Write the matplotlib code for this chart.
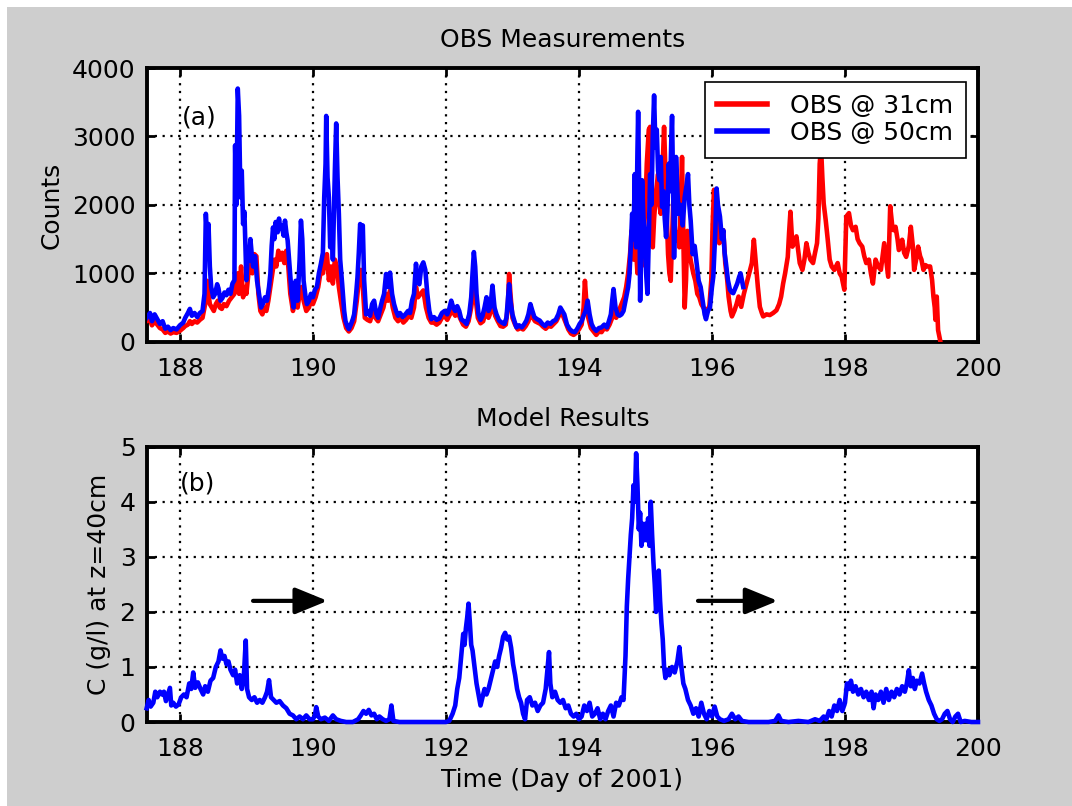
import matplotlib
matplotlib.use("Agg")
import matplotlib.pyplot as plt
from matplotlib.patches import Rectangle

# ---- data: (day of 2001, value) ----
# OBS @ 31cm (counts)
obs31 = [
    (187.50, 300), (187.55, 320), (187.58, 240), (187.62, 300), (187.66, 250), (187.70, 200),
    (187.74, 180), (187.78, 130), (187.82, 150), (187.86, 120), (187.90, 140), (187.95, 130),
    (188.00, 160), (188.05, 200), (188.08, 230), (188.12, 250), (188.15, 300), (188.18, 260),
    (188.22, 300), (188.26, 280), (188.30, 320), (188.34, 350), (188.37, 500), (188.39, 600),
    (188.41, 890), (188.43, 700), (188.45, 550), (188.48, 500), (188.51, 450), (188.54, 550),
    (188.57, 600), (188.60, 500), (188.63, 480), (188.66, 550), (188.70, 520), (188.74, 600),
    (188.78, 650), (188.82, 700), (188.84, 900), (188.87, 1000), (188.89, 700), (188.92, 1100),
    (188.95, 650), (188.98, 800), (189.00, 700), (189.03, 1000), (189.06, 1150), (189.09, 1000),
    (189.12, 1280), (189.15, 1250), (189.18, 700), (189.21, 450), (189.24, 400), (189.27, 500),
    (189.30, 450), (189.33, 600), (189.36, 800), (189.39, 1000), (189.42, 1200), (189.45, 1100),
    (189.48, 1330), (189.51, 1200), (189.54, 1300), (189.57, 1150), (189.60, 1330), (189.63, 1100),
    (189.66, 700), (189.70, 450), (189.73, 600), (189.77, 500), (189.80, 700), (189.83, 800),
    (189.86, 600), (189.90, 450), (189.94, 500), (189.97, 600), (190.00, 550), (190.04, 650),
    (190.08, 800), (190.12, 1050), (190.15, 1000), (190.18, 1200), (190.21, 1280), (190.24, 900),
    (190.27, 1100), (190.30, 850), (190.33, 1200), (190.36, 1100), (190.39, 800), (190.42, 600),
    (190.46, 350), (190.50, 200), (190.54, 150), (190.58, 200), (190.62, 300), (190.66, 600),
    (190.69, 900), (190.72, 1050), (190.75, 800), (190.78, 350), (190.82, 320), (190.86, 300),
    (190.90, 450), (190.94, 350), (190.98, 300), (191.02, 400), (191.06, 500), (191.10, 700),
    (191.13, 600), (191.16, 750), (191.20, 500), (191.24, 350), (191.28, 300), (191.32, 350),
    (191.36, 280), (191.40, 320), (191.44, 380), (191.48, 350), (191.52, 500), (191.55, 800),
    (191.58, 650), (191.62, 700), (191.66, 750), (191.70, 500), (191.74, 350), (191.78, 280),
    (191.82, 280), (191.86, 250), (191.90, 280), (191.94, 350), (191.98, 380), (192.02, 320),
    (192.06, 400), (192.10, 450), (192.14, 380), (192.18, 420), (192.22, 330), (192.26, 250),
    (192.30, 220), (192.34, 300), (192.38, 500), (192.42, 800), (192.45, 600), (192.48, 350),
    (192.52, 270), (192.56, 300), (192.60, 450), (192.64, 350), (192.68, 450), (192.71, 600),
    (192.74, 380), (192.78, 300), (192.82, 230), (192.86, 220), (192.90, 250), (192.93, 500),
    (192.95, 990), (192.97, 700), (193.00, 350), (193.04, 250), (193.08, 180), (193.12, 200),
    (193.16, 180), (193.20, 230), (193.24, 300), (193.27, 420), (193.30, 360), (193.34, 300),
    (193.38, 280), (193.42, 260), (193.46, 220), (193.50, 190), (193.54, 230), (193.58, 220),
    (193.62, 260), (193.66, 300), (193.70, 380), (193.73, 420), (193.76, 380), (193.80, 280),
    (193.84, 180), (193.88, 120), (193.92, 100), (193.96, 130), (194.00, 180), (194.04, 250),
    (194.07, 500), (194.09, 890), (194.11, 600), (194.14, 350), (194.18, 200), (194.22, 150),
    (194.26, 100), (194.30, 150), (194.34, 140), (194.38, 200), (194.42, 180), (194.46, 250),
    (194.50, 350), (194.53, 450), (194.56, 350), (194.60, 450), (194.64, 550), (194.68, 650),
    (194.71, 800), (194.74, 1000), (194.77, 1300), (194.79, 1620), (194.82, 1200), (194.85, 1500),
    (194.88, 1000), (194.91, 1400), (194.94, 1100), (194.97, 1500), (195.00, 2000), (195.02, 2600),
    (195.05, 3100), (195.07, 3140), (195.09, 2300), (195.11, 1380), (195.13, 1800), (195.16, 2200),
    (195.19, 2450), (195.21, 2000), (195.23, 1870), (195.26, 2600), (195.28, 3140), (195.30, 2500),
    (195.32, 1870), (195.34, 1280), (195.36, 1000), (195.38, 890), (195.40, 1500), (195.42, 2110),
    (195.44, 1700), (195.46, 1480), (195.49, 1600), (195.51, 1380), (195.53, 2000), (195.55, 2700),
    (195.57, 1500), (195.59, 500), (195.61, 900), (195.63, 1620), (195.66, 1300), (195.69, 1140),
    (195.72, 1000), (195.75, 890), (195.78, 700), (195.81, 650), (195.84, 550), (195.87, 500),
    (195.90, 450), (195.93, 480), (195.96, 500), (195.99, 900), (196.01, 1700), (196.03, 2220),
    (196.06, 2000), (196.08, 1830), (196.11, 1440), (196.14, 1500), (196.17, 1630), (196.20, 1150),
    (196.23, 900), (196.25, 660), (196.28, 450), (196.30, 370), (196.34, 460), (196.37, 550),
    (196.40, 660), (196.44, 510), (196.48, 700), (196.52, 850), (196.56, 1000), (196.60, 1150),
    (196.63, 1490), (196.66, 1150), (196.69, 800), (196.72, 510), (196.75, 420), (196.77, 370),
    (196.82, 400), (196.87, 390), (196.92, 420), (196.97, 460), (197.01, 550), (197.04, 660),
    (197.07, 850), (197.10, 1000), (197.14, 1240), (197.16, 1600), (197.18, 1900), (197.21, 1390),
    (197.24, 1450), (197.27, 1540), (197.30, 1300), (197.32, 1150), (197.36, 1050), (197.39, 1200),
    (197.42, 1440), (197.45, 1300), (197.48, 1200), (197.52, 1150), (197.55, 1300), (197.58, 1440),
    (197.60, 1800), (197.62, 2600), (197.64, 2850), (197.66, 2400), (197.68, 2020), (197.71, 1780),
    (197.74, 1500), (197.77, 1200), (197.80, 1100), (197.84, 1050), (197.89, 1150), (197.92, 1000),
    (197.95, 950), (197.99, 760), (198.02, 1830), (198.06, 1880), (198.09, 1700), (198.12, 1630),
    (198.16, 1680), (198.19, 1500), (198.22, 1440), (198.26, 1390), (198.29, 1250), (198.32, 1150),
    (198.36, 1200), (198.39, 1000), (198.42, 850), (198.46, 1200), (198.50, 1100), (198.54, 1050),
    (198.59, 1440), (198.62, 1200), (198.65, 950), (198.68, 1980), (198.71, 1700), (198.73, 1630),
    (198.76, 1680), (198.79, 1500), (198.81, 1340), (198.84, 1400), (198.86, 1490), (198.89, 1300),
    (198.92, 1240), (198.96, 1400), (198.99, 1680), (199.02, 1400), (199.04, 1050), (199.07, 1200),
    (199.10, 1390), (199.13, 1250), (199.15, 1200), (199.18, 1050), (199.21, 1120), (199.24, 1100),
    (199.28, 1100), (199.31, 900), (199.33, 660), (199.35, 500), (199.36, 320), (199.38, 660),
    (199.40, 170), (199.43, 25),
]

# OBS @ 50cm (counts)
obs50 = [
    (187.50, 350), (187.55, 420), (187.58, 300), (187.62, 400), (187.66, 330), (187.70, 260),
    (187.74, 300), (187.78, 190), (187.82, 220), (187.86, 170), (187.90, 200), (187.95, 180),
    (188.00, 240), (188.05, 280), (188.08, 350), (188.12, 420), (188.15, 480), (188.18, 380),
    (188.22, 420), (188.26, 360), (188.30, 420), (188.34, 450), (188.37, 700), (188.39, 1870),
    (188.41, 1500), (188.43, 1720), (188.45, 1100), (188.47, 800), (188.50, 650), (188.53, 700),
    (188.56, 840), (188.58, 780), (188.61, 600), (188.64, 640), (188.67, 720), (188.70, 680),
    (188.73, 760), (188.76, 700), (188.79, 850), (188.82, 900), (188.83, 2870), (188.85, 2000),
    (188.87, 3700), (188.89, 3300), (188.91, 2110), (188.93, 2500), (188.95, 1720), (188.97, 1900),
    (189.00, 900), (189.02, 1300), (189.04, 1185), (189.06, 1500), (189.08, 1280), (189.10, 1100),
    (189.13, 1250), (189.16, 890), (189.19, 700), (189.22, 500), (189.25, 560), (189.28, 650),
    (189.31, 600), (189.34, 800), (189.36, 990), (189.38, 1400), (189.40, 1670), (189.42, 1500),
    (189.44, 1750), (189.47, 1600), (189.49, 1800), (189.51, 1650), (189.53, 1700), (189.56, 1550),
    (189.58, 1770), (189.60, 1600), (189.62, 1480), (189.65, 1100), (189.68, 700), (189.71, 500),
    (189.74, 890), (189.77, 600), (189.80, 1200), (189.82, 1770), (189.84, 1500), (189.86, 890),
    (189.89, 650), (189.91, 550), (189.94, 600), (189.97, 700), (190.00, 650), (190.03, 760),
    (190.06, 800), (190.09, 1000), (190.12, 1140), (190.15, 1300), (190.17, 2110), (190.19, 2600),
    (190.20, 3300), (190.22, 2400), (190.24, 2110), (190.26, 1380), (190.28, 1800), (190.30, 1200),
    (190.33, 2500), (190.35, 3190), (190.37, 2400), (190.39, 1870), (190.41, 1200), (190.44, 840),
    (190.47, 450), (190.49, 300), (190.52, 220), (190.54, 185), (190.57, 250), (190.60, 330),
    (190.62, 400), (190.65, 700), (190.67, 940), (190.69, 1300), (190.71, 1720), (190.73, 1620),
    (190.75, 1700), (190.77, 900), (190.80, 400), (190.83, 450), (190.86, 380), (190.89, 550),
    (190.92, 600), (190.95, 420), (190.98, 350), (191.01, 480), (191.04, 600), (191.07, 700),
    (191.10, 990), (191.13, 800), (191.16, 1010), (191.19, 700), (191.22, 550), (191.25, 450),
    (191.28, 380), (191.31, 420), (191.35, 360), (191.39, 400), (191.43, 450), (191.46, 420),
    (191.49, 600), (191.52, 700), (191.55, 1140), (191.57, 900), (191.60, 840), (191.63, 1100),
    (191.66, 1160), (191.69, 1050), (191.72, 700), (191.75, 450), (191.78, 330), (191.82, 360),
    (191.86, 320), (191.90, 340), (191.94, 420), (191.98, 450), (192.02, 400), (192.05, 480),
    (192.08, 600), (192.11, 500), (192.14, 450), (192.17, 520), (192.20, 450), (192.23, 330),
    (192.27, 300), (192.31, 260), (192.35, 400), (192.38, 650), (192.40, 1000), (192.42, 1310),
    (192.44, 1100), (192.46, 700), (192.49, 400), (192.52, 320), (192.55, 380), (192.58, 500),
    (192.61, 650), (192.64, 450), (192.67, 520), (192.70, 820), (192.73, 500), (192.76, 400),
    (192.80, 310), (192.84, 280), (192.88, 260), (192.91, 350), (192.93, 600), (192.95, 840),
    (192.97, 600), (193.00, 400), (193.03, 300), (193.06, 210), (193.10, 240), (193.14, 210),
    (193.18, 260), (193.21, 310), (193.24, 400), (193.27, 550), (193.30, 450), (193.33, 360),
    (193.37, 330), (193.41, 310), (193.45, 260), (193.49, 230), (193.53, 280), (193.57, 260),
    (193.61, 300), (193.65, 320), (193.69, 400), (193.72, 500), (193.75, 450), (193.78, 400),
    (193.82, 250), (193.86, 185), (193.90, 150), (193.94, 140), (193.98, 200), (194.01, 260),
    (194.04, 300), (194.07, 380), (194.10, 450), (194.13, 600), (194.16, 400), (194.19, 260),
    (194.22, 200), (194.26, 160), (194.30, 200), (194.34, 210), (194.38, 250), (194.42, 210),
    (194.45, 300), (194.48, 400), (194.50, 600), (194.52, 770), (194.55, 500), (194.58, 400),
    (194.61, 380), (194.64, 400), (194.67, 450), (194.70, 600), (194.72, 700), (194.74, 800),
    (194.76, 990), (194.78, 1400), (194.80, 1870), (194.82, 1500), (194.84, 2450), (194.86, 1380),
    (194.88, 2800), (194.89, 3360), (194.91, 2000), (194.92, 600), (194.94, 1500), (194.95, 2360),
    (194.97, 1800), (194.99, 1620), (195.01, 1000), (195.03, 700), (195.05, 1500), (195.07, 2450),
    (195.09, 2000), (195.11, 3000), (195.13, 3600), (195.15, 2840), (195.17, 3100), (195.19, 2500),
    (195.21, 2360), (195.23, 2700), (195.25, 1970), (195.27, 2200), (195.29, 1800), (195.31, 1530),
    (195.33, 1900), (195.35, 2600), (195.37, 2200), (195.39, 3000), (195.40, 3300), (195.42, 2000),
    (195.43, 1230), (195.45, 2000), (195.46, 2700), (195.48, 2200), (195.50, 1870), (195.53, 2000),
    (195.56, 1700), (195.59, 2110), (195.62, 2300), (195.64, 2450), (195.66, 2000), (195.68, 1770),
    (195.71, 1280), (195.74, 1400), (195.77, 1140), (195.80, 890), (195.83, 800), (195.86, 600),
    (195.89, 400), (195.91, 330), (195.94, 450), (195.97, 500), (196.00, 800), (196.02, 950),
    (196.05, 1600), (196.07, 2240), (196.09, 2000), (196.12, 1830), (196.15, 1500), (196.17, 1630),
    (196.19, 1300), (196.21, 1150), (196.24, 900), (196.27, 760), (196.30, 720), (196.32, 710),
    (196.35, 780), (196.38, 850), (196.41, 950), (196.43, 1000), (196.45, 900), (196.47, 800),
]

# model concentration at z=40cm (g/l)
model_c = [
    (187.50, 0.25), (187.53, 0.40), (187.56, 0.28), (187.60, 0.35), (187.63, 0.55), (187.66, 0.45),
    (187.70, 0.55), (187.73, 0.50), (187.76, 0.55), (187.79, 0.38), (187.82, 0.50), (187.85, 0.62),
    (187.87, 0.30), (187.90, 0.35), (187.94, 0.28), (187.98, 0.32), (188.02, 0.45), (188.06, 0.50),
    (188.10, 0.45), (188.14, 0.70), (188.17, 0.60), (188.20, 0.90), (188.23, 0.62), (188.27, 0.72),
    (188.31, 0.60), (188.35, 0.50), (188.38, 0.65), (188.42, 0.55), (188.46, 0.75), (188.50, 0.80),
    (188.54, 1.00), (188.58, 1.10), (188.61, 1.30), (188.64, 1.15), (188.67, 1.20), (188.70, 1.05),
    (188.73, 1.10), (188.76, 0.95), (188.80, 0.85), (188.83, 0.95), (188.86, 0.70), (188.90, 0.85),
    (188.93, 0.60), (188.96, 0.80), (188.99, 1.48), (189.01, 0.60), (189.04, 0.45), (189.08, 0.40),
    (189.12, 0.45), (189.16, 0.35), (189.20, 0.40), (189.24, 0.35), (189.28, 0.45), (189.31, 0.55),
    (189.34, 0.76), (189.37, 0.45), (189.41, 0.40), (189.45, 0.35), (189.50, 0.38), (189.55, 0.30),
    (189.60, 0.25), (189.65, 0.15), (189.70, 0.12), (189.75, 0.05), (189.80, 0.10), (189.85, 0.05),
    (189.90, 0.12), (189.95, 0.05), (190.00, 0.05), (190.03, 0.12), (190.05, 0.27), (190.08, 0.10),
    (190.12, 0.05), (190.18, 0.08), (190.24, 0.02), (190.30, 0.12), (190.35, 0.05), (190.42, 0.02),
    (190.50, 0.00), (190.60, 0.00), (190.68, 0.05), (190.72, 0.12), (190.76, 0.20), (190.80, 0.15),
    (190.84, 0.22), (190.88, 0.12), (190.92, 0.15), (190.96, 0.05), (191.00, 0.10), (191.05, 0.05),
    (191.10, 0.02), (191.15, 0.05), (191.18, 0.30), (191.21, 0.02), (191.30, 0.00), (191.50, 0.00),
    (191.70, 0.00), (191.90, 0.00), (192.00, 0.00), (192.05, 0.02), (192.10, 0.15), (192.14, 0.30),
    (192.17, 0.60), (192.20, 0.80), (192.23, 1.20), (192.26, 1.60), (192.28, 1.40), (192.30, 1.70),
    (192.32, 1.90), (192.34, 2.15), (192.36, 1.80), (192.38, 1.40), (192.40, 1.30), (192.43, 1.00),
    (192.46, 0.70), (192.49, 0.50), (192.52, 0.30), (192.55, 0.45), (192.58, 0.60), (192.61, 0.50),
    (192.64, 0.60), (192.67, 0.75), (192.71, 0.95), (192.74, 1.10), (192.77, 1.00), (192.80, 1.20),
    (192.83, 1.35), (192.86, 1.55), (192.89, 1.62), (192.92, 1.50), (192.95, 1.55), (192.98, 1.35),
    (193.01, 1.05), (193.04, 0.85), (193.07, 0.60), (193.10, 0.45), (193.13, 0.35), (193.16, 0.15),
    (193.19, 0.05), (193.22, 0.40), (193.26, 0.45), (193.30, 0.30), (193.34, 0.35), (193.38, 0.20),
    (193.42, 0.30), (193.46, 0.35), (193.50, 0.60), (193.53, 1.00), (193.55, 1.27), (193.57, 0.70),
    (193.60, 0.45), (193.64, 0.55), (193.68, 0.40), (193.72, 0.35), (193.76, 0.40), (193.80, 0.25),
    (193.84, 0.30), (193.88, 0.15), (193.92, 0.10), (193.96, 0.15), (194.00, 0.05), (194.04, 0.10),
    (194.08, 0.30), (194.12, 0.20), (194.16, 0.35), (194.20, 0.10), (194.24, 0.15), (194.28, 0.25),
    (194.32, 0.05), (194.36, 0.15), (194.40, 0.05), (194.44, 0.20), (194.48, 0.30), (194.52, 0.10),
    (194.56, 0.35), (194.60, 0.30), (194.64, 0.45), (194.67, 0.40), (194.70, 1.20), (194.72, 2.10),
    (194.74, 2.60), (194.76, 3.00), (194.78, 3.40), (194.80, 3.70), (194.82, 4.30), (194.84, 4.00),
    (194.86, 4.88), (194.88, 4.30), (194.90, 3.50), (194.92, 3.80), (194.94, 3.20), (194.96, 3.60),
    (194.98, 3.30), (195.00, 3.60), (195.02, 3.30), (195.04, 3.70), (195.06, 3.20), (195.08, 4.00),
    (195.10, 3.40), (195.12, 2.90), (195.14, 2.50), (195.16, 2.00), (195.18, 2.50), (195.20, 2.75),
    (195.22, 2.20), (195.24, 1.80), (195.26, 1.50), (195.28, 1.00), (195.30, 0.80), (195.33, 0.95),
    (195.36, 0.85), (195.40, 1.00), (195.44, 0.90), (195.48, 1.10), (195.51, 1.36), (195.54, 1.00),
    (195.57, 0.70), (195.60, 0.60), (195.64, 0.40), (195.68, 0.30), (195.72, 0.15), (195.76, 0.25),
    (195.80, 0.10), (195.84, 0.35), (195.88, 0.15), (195.92, 0.05), (195.96, 0.20), (196.00, 0.10),
    (196.04, 0.28), (196.08, 0.10), (196.12, 0.05), (196.18, 0.02), (196.25, 0.05), (196.30, 0.15),
    (196.35, 0.05), (196.40, 0.10), (196.45, 0.02), (196.55, 0.00), (196.70, 0.00), (196.85, 0.00),
    (196.95, 0.02), (197.00, 0.12), (197.04, 0.02), (197.15, 0.00), (197.30, 0.02), (197.45, 0.00),
    (197.55, 0.05), (197.62, 0.02), (197.68, 0.10), (197.72, 0.05), (197.76, 0.20), (197.80, 0.10),
    (197.84, 0.30), (197.88, 0.20), (197.92, 0.40), (197.96, 0.20), (198.00, 0.35), (198.03, 0.70),
    (198.06, 0.60), (198.09, 0.75), (198.12, 0.55), (198.16, 0.65), (198.20, 0.50), (198.24, 0.60),
    (198.28, 0.45), (198.32, 0.55), (198.36, 0.40), (198.40, 0.55), (198.43, 0.25), (198.46, 0.50),
    (198.50, 0.40), (198.54, 0.55), (198.58, 0.35), (198.62, 0.60), (198.66, 0.40), (198.70, 0.55),
    (198.74, 0.45), (198.78, 0.60), (198.82, 0.50), (198.86, 0.65), (198.90, 0.55), (198.93, 0.70),
    (198.96, 0.94), (198.99, 0.65), (199.02, 0.80), (199.05, 0.60), (199.08, 0.75), (199.12, 0.70),
    (199.16, 0.88), (199.19, 0.70), (199.22, 0.55), (199.26, 0.40), (199.30, 0.30), (199.34, 0.15),
    (199.38, 0.05), (199.42, 0.02), (199.46, 0.05), (199.50, 0.15), (199.54, 0.20), (199.58, 0.05),
    (199.62, 0.00), (199.66, 0.10), (199.70, 0.15), (199.74, 0.00), (199.80, 0.02), (199.90, 0.00),
    (200.00, 0.00),
]

day_ticks = [188, 190, 192, 194, 196, 198, 200]
count_ticks = [0, 1000, 2000, 3000, 4000]
conc_ticks = [0, 1, 2, 3, 4, 5]

# ---- style ----
plt.rcParams['font.family'] = ['DejaVu Sans']
FS = 18
BG = '#cecece'
LW = 3.3


def style_axes(ax, yticks):
    ax.set_xlim(187.5, 200)
    ax.set_xticks(day_ticks)
    ax.set_yticks(yticks)
    ax.set_ylim(yticks[0], yticks[-1])
    ax.grid(True, color='black', linestyle=(0, (1, 2.5)), linewidth=1.6)
    ax.tick_params(direction='in', top=True, right=True, length=6, width=2,
                   labelsize=FS)
    ax.tick_params(axis='x', pad=11)
    ax.tick_params(axis='y', pad=8)
    for sp in ax.spines.values():
        sp.set_linewidth(2.8)


fig = plt.figure(figsize=(10.72, 8.06), dpi=100, facecolor='white')
fig.patches.append(Rectangle((7 / 1072, 0), 1, 1 - 7 / 806, transform=fig.transFigure,
                             facecolor=BG, edgecolor='none', zorder=-10))

ax1 = fig.add_axes([0.1368, 0.576, 0.7755, 0.3396])
ax2 = fig.add_axes([0.1368, 0.1042, 0.7755, 0.3416])

# (a) OBS measurements
d31, c31 = zip(*obs31)
d50, c50 = zip(*obs50)
ax1.plot(d31, c31, color='#ff0000', lw=LW, label='OBS @ 31cm', zorder=3)
ax1.plot(d50, c50, color='#0000ff', lw=LW, label='OBS @ 50cm', zorder=4)
style_axes(ax1, count_ticks)
ax1.set_title('OBS Measurements', fontsize=FS, pad=15)
ax1.set_ylabel('Counts', fontsize=FS, labelpad=6)
ax1.text(188.03, 3270, '(a)', fontsize=FS, va='center', ha='left')
leg = ax1.legend(loc='upper right', bbox_to_anchor=(0.985, 0.95), borderaxespad=0,
                 fontsize=FS, frameon=True, fancybox=False, framealpha=1,
                 handlelength=2.0, handletextpad=0.9, borderpad=0.5,
                 labelspacing=0.12)
leg.get_frame().set_edgecolor('black')
leg.get_frame().set_linewidth(1.2)
for h in leg.get_lines():
    h.set_linewidth(4)

# (b) model results
dm, cm = zip(*model_c)
ax2.plot(dm, cm, color='#0000ff', lw=LW, zorder=4, clip_on=False)
style_axes(ax2, conc_ticks)
ax2.set_title('Model Results', fontsize=FS, pad=15)
ax2.set_ylabel('C (g/l) at z=40cm', fontsize=FS, labelpad=6)
ax2.set_xlabel('Time (Day of 2001)', fontsize=FS, labelpad=5)
ax2.text(188.0, 4.34, '(b)', fontsize=FS, va='center', ha='left')
for x0, x1 in [(189.1, 190.22), (195.79, 196.99)]:
    ax2.annotate('', xy=(x1, 2.2), xytext=(x0, 2.2),
                 arrowprops=dict(arrowstyle='-|>,head_length=1.1,head_width=0.45',
                                 lw=3, color='black', mutation_scale=18,
                                 shrinkA=0, shrinkB=0), zorder=5)

fig.savefig('out.png', dpi=100, facecolor=fig.get_facecolor())
